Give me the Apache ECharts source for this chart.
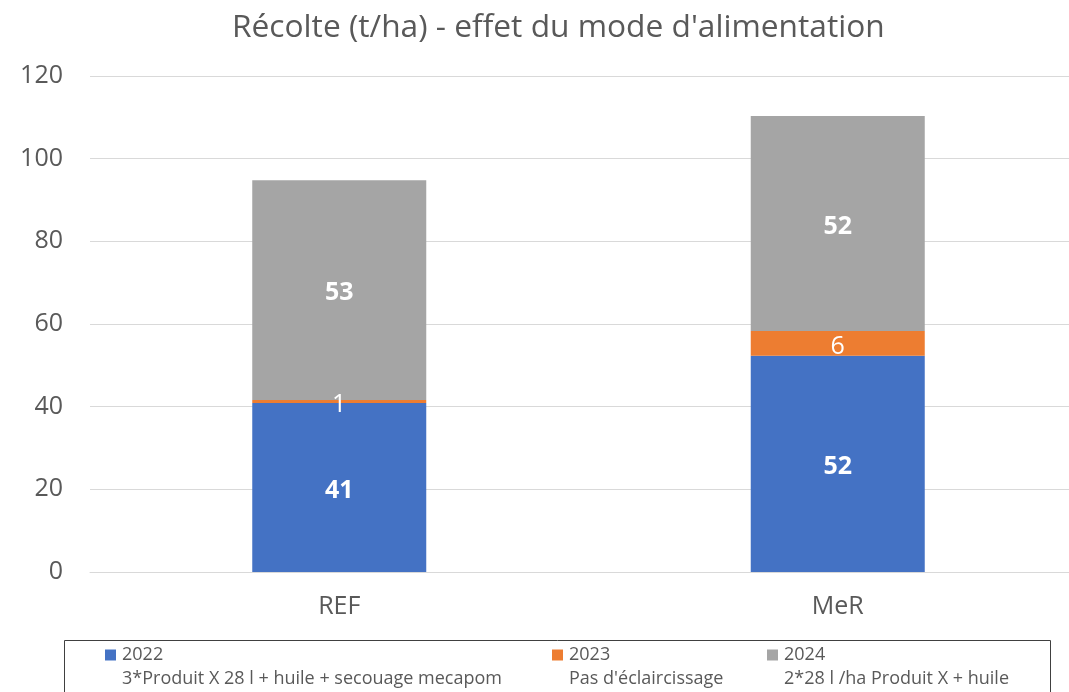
<!DOCTYPE html>
<html>
<head>
<meta charset="utf-8">
<title>Récolte (t/ha)</title>
<script src="https://cdn.jsdelivr.net/npm/echarts@6/dist/echarts.min.js"></script>
<style>
  html, body { margin: 0; padding: 0; background: #fff; }
  #chart { width: 1069px; height: 692px; }
</style>
</head>
<body>
<div id="chart"></div>
<script>
var categories = ['REF', 'MeR'];
var years = ['2022', '2023', '2024'];
var descriptions = [
  '3*Produit X 28 l + huile + secouage mecapom',
  "Pas d'éclaircissage",
  '2*28 l /ha Produit X + huile'
];
var values2022 = [40.9, 52.3];
var values2023 = [0.7, 6.0];
var values2024 = [53.2, 52.0];
var yTicks = { min: 0, max: 120, interval: 20 };

var colors = ['#4472C4', '#ED7D31', '#A5A5A5'];
var textColor = '#595959';
var font = '"Open Sans", "Noto Sans", sans-serif';

var chart = echarts.init(document.getElementById('chart'));

function makeSeries(name, data, color, bold) {
  return {
    name: name,
    type: 'bar',
    stack: 'total',
    barWidth: 174,
    itemStyle: { color: color },
    label: {
      show: true,
      position: 'inside',
      color: '#fff',
      fontSize: 25,
      fontFamily: font,
      fontWeight: bold ? 'bold' : 'normal',
      offset: [0, 3],
      formatter: function (p) { return Math.round(p.value); }
    },
    data: data
  };
}

// one legend per year so each can sit at its own column
var legendLefts = [105, 552, 767];
var legends = years.map(function (y, i) {
  return {
    data: [y],
    left: legendLefts[i],
    top: 646,
    padding: 0,
    itemWidth: 11,
    itemHeight: 11,
    icon: 'rect',
    selectedMode: false,
    textStyle: { color: textColor, fontSize: 18, fontFamily: font, padding: [0, 0, 0, 1] }
  };
});

var descTexts = descriptions.map(function (d, i) {
  return {
    type: 'text',
    left: legendLefts[i] + 17,
    top: 670,
    style: { text: d, fill: textColor, fontSize: 18, fontFamily: font }
  };
});

chart.setOption({
  backgroundColor: '#fff',
  animation: false,
  title: {
    text: "Récolte (t/ha) - effet du mode d'alimentation",
    left: 227,
    top: 7,
    textStyle: { color: textColor, fontSize: 31.7, fontWeight: 'normal', fontFamily: font }
  },
  legend: legends,
  grid: { left: 90, top: 76, width: 997, height: 496, outerBoundsMode: 'none', containLabel: false },
  xAxis: {
    type: 'category',
    data: categories,
    axisLine: { lineStyle: { color: '#D9D9D9' } },
    axisTick: { show: false },
    axisLabel: { color: textColor, fontSize: 25, fontFamily: font, margin: 22 }
  },
  yAxis: {
    type: 'value',
    min: yTicks.min,
    max: yTicks.max,
    interval: yTicks.interval,
    axisLine: { show: false },
    axisTick: { show: false },
    splitLine: { lineStyle: { color: '#D9D9D9' } },
    axisLabel: { color: textColor, fontSize: 25, fontFamily: font, margin: 27 }
  },
  graphic: [
    {
      type: 'rect',
      left: 62,
      top: 638,
      shape: { width: 986, height: 70 },
      style: { fill: 'none', stroke: '#404040', lineWidth: 1 }
    }
  ].concat(descTexts),
  series: [
    makeSeries('2022', values2022, colors[0], true),
    makeSeries('2023', values2023, colors[1], false),
    makeSeries('2024', values2024, colors[2], true)
  ]
});
</script>
</body>
</html>
